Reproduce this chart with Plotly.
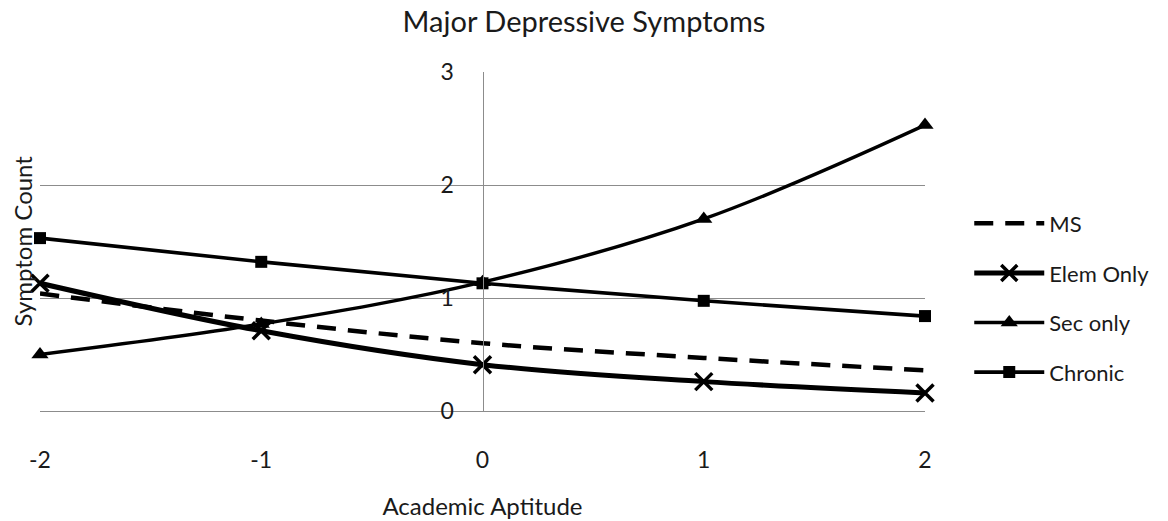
import plotly.graph_objects as go

x_vals = [-2, -1, 0, 1, 2]
ms = [1.04, 0.80, 0.60, 0.47, 0.36]
elem_only = [1.13, 0.71, 0.41, 0.26, 0.16]
sec_only = [0.50, 0.77, 1.14, 1.70, 2.53]
chronic = [1.53, 1.32, 1.13, 0.975, 0.84]
y_ticks = [0, 1, 2, 3]

FONT = "Lato"
TXT = "#1a1a1a"
GRID = "#8c8c8c"

fig = go.Figure()
fig.add_trace(go.Scatter(x=x_vals, y=ms, name="MS", mode="lines", line_shape="spline",
                         line=dict(color="black", width=4.5, dash="19px,12px"),
                         legendgroup="a", cliponaxis=False))
fig.add_trace(go.Scatter(x=x_vals, y=elem_only, name="Elem Only", mode="lines+markers", line_shape="spline",
                         line=dict(color="black", width=5),
                         marker=dict(symbol="x-thin", size=17, line=dict(color="black", width=3.5)),
                         legendgroup="b", cliponaxis=False))
fig.add_trace(go.Scatter(x=x_vals, y=sec_only, name="Sec only", mode="lines+markers", line_shape="spline",
                         line=dict(color="black", width=3.4),
                         marker=dict(symbol="triangle-up", size=15, color="black"),
                         legendgroup="c", cliponaxis=False))
fig.add_trace(go.Scatter(x=x_vals, y=chronic, name="Chronic", mode="lines+markers", line_shape="spline",
                         line=dict(color="black", width=3.6),
                         marker=dict(symbol="square", size=12, color="black"),
                         legendgroup="d", cliponaxis=False))

fig.update_layout(
    width=1168, height=521,
    margin=dict(l=40, r=243, t=72, b=110, autoexpand=False),
    paper_bgcolor="white", plot_bgcolor="white",
    font=dict(family=FONT, color=TXT, size=22),
    title=dict(text="Major Depressive Symptoms", x=0.5, xref="container", xanchor="center",
               y=1 - 22 / 521, yref="container", yanchor="middle",
               font=dict(family=FONT, size=29, color=TXT)),
    showlegend=True,
    legend=dict(x=1.05, xanchor="left", y=0.615, yanchor="top", tracegroupgap=18,
                font=dict(family=FONT, size=22, color=TXT), itemwidth=70,
                bgcolor="rgba(0,0,0,0)"),
    xaxis=dict(range=[-2, 2], tickvals=x_vals, ticktext=[str(v) for v in x_vals],
               showgrid=False, zeroline=False, showline=True, linecolor=GRID, linewidth=1,
               ticks="", ticklabelstandoff=28, tickfont=dict(size=23), automargin=False,
               title=dict(text="Academic Aptitude", standoff=26, font=dict(size=24))),
    yaxis=dict(range=[0, 3], tickvals=y_ticks, showgrid=True, gridcolor=GRID, gridwidth=1,
               zeroline=False, showline=True, linecolor=GRID, linewidth=1, automargin=False,
               anchor="free", position=0.5, ticks="", ticklabelstandoff=24,
               tickfont=dict(size=23)),
    annotations=[dict(text="Symptom Count", textangle=-90, xref="paper", yref="paper",
                      x=-18 / 885, y=0.5, xanchor="center", yanchor="middle", showarrow=False,
                      font=dict(family=FONT, size=24, color=TXT))],
)

fig.write_html("out.html")
